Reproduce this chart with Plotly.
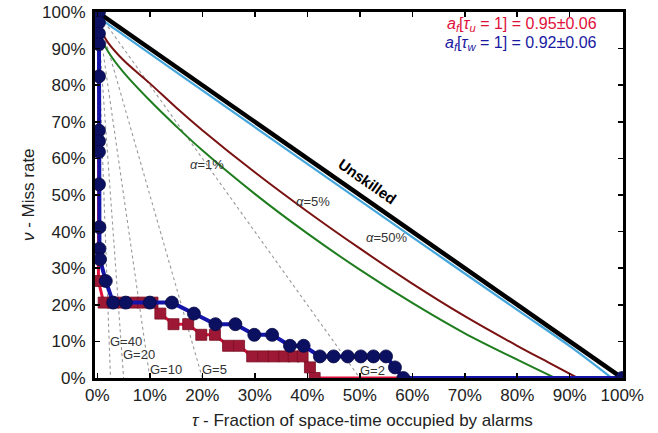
import plotly.graph_objects as go

# ---------------- data ----------------
x_tick_vals = [0, 0.1, 0.2, 0.3, 0.4, 0.5, 0.6, 0.7, 0.8, 0.9, 1.0]
x_tick_text = ["0%", "10%", "20%", "30%", "40%", "50%", "60%", "70%", "80%", "90%", "100%"]
y_tick_vals = [0, 0.1, 0.2, 0.3, 0.4, 0.5, 0.6, 0.7, 0.8, 0.9, 1.0]
y_tick_text = ["0%", "10%", "20%", "30%", "40%", "50%", "60%", "70%", "80%", "90%", "100%"]

# unskilled diagonal
unskilled_tau = [0.0, 1.0]
unskilled_nu = [1.0, 0.0]

# confidence curves
a50_tau = [0.0, 0.01, 0.05, 0.2, 0.4, 0.6, 0.8, 0.9, 0.98]
a50_nu = [1.0, 0.979, 0.937, 0.786, 0.585, 0.385, 0.186, 0.087, 0.0]

a5_tau = [0.005, 0.02, 0.05, 0.1, 0.15, 0.2, 0.3, 0.4, 0.5, 0.6, 0.7, 0.8, 0.86, 0.915]
a5_nu = [0.955, 0.917, 0.868, 0.805, 0.739, 0.677, 0.562, 0.455, 0.354, 0.258, 0.169, 0.088, 0.042, 0.0]

a1_tau = [0.005, 0.02, 0.05, 0.1, 0.15, 0.2, 0.3, 0.4, 0.5, 0.6, 0.7, 0.8, 0.872]
a1_nu = [0.935, 0.893, 0.835, 0.758, 0.688, 0.622, 0.503, 0.395, 0.296, 0.205, 0.122, 0.05, 0.0]

# gain reference lines (nu = 1 - G*tau)
G_values = [40, 20, 10, 5, 2]

# tau_u (red squares)
tau_u = [0.003, 0.002, 0.012, 0.030, 0.050, 0.068, 0.087, 0.105, 0.120, 0.145, 0.173, 0.198,
         0.224, 0.249, 0.270, 0.295, 0.316, 0.336, 0.356, 0.374, 0.391, 0.405, 0.414, 1.0]
nu_u = [1.0, 0.265, 0.206, 0.206, 0.206, 0.206, 0.206, 0.206, 0.176, 0.147, 0.147, 0.118,
        0.118, 0.088, 0.088, 0.059, 0.059, 0.059, 0.059, 0.059, 0.059, 0.029, 0.0, 0.0]

# tau_w (navy circles)
tau_w = [0.003, 0.003, 0.003, 0.003, 0.003, 0.003, 0.003, 0.003, 0.003, 0.004, 0.004, 0.005,
         0.016, 0.030, 0.054, 0.100, 0.142, 0.184, 0.225, 0.263, 0.299, 0.333, 0.367, 0.393,
         0.424, 0.450, 0.477, 0.502, 0.526, 0.550, 0.567, 0.583, 1.0]
nu_w = [1.0, 0.971, 0.941, 0.912, 0.824, 0.676, 0.647, 0.618, 0.529, 0.412, 0.353, 0.324,
        0.265, 0.206, 0.206, 0.206, 0.206, 0.176, 0.147, 0.147, 0.118, 0.118, 0.088, 0.088,
        0.059, 0.059, 0.059, 0.059, 0.059, 0.059, 0.029, 0.0, 0.0]

# ---------------- figure ----------------
FONT = "Liberation Sans, Arial, Helvetica, sans-serif"
fig = go.Figure()

for g in G_values:
    fig.add_trace(go.Scatter(x=[0.0, 1.0 / g], y=[1.0, 0.0], mode="lines",
                             line=dict(color="#999999", width=1.1, dash="dot"),
                             hoverinfo="skip", showlegend=False))

fig.add_trace(go.Scatter(x=a1_tau, y=a1_nu, mode="lines", line=dict(color="#1f7d1f", width=2, shape="spline"),
                         showlegend=False))
fig.add_trace(go.Scatter(x=a5_tau, y=a5_nu, mode="lines", line=dict(color="#7a1212", width=2, shape="spline"),
                         showlegend=False))
fig.add_trace(go.Scatter(x=a50_tau, y=a50_nu, mode="lines", line=dict(color="#45a6dc", width=2.2, shape="spline"),
                         showlegend=False))
fig.add_trace(go.Scatter(x=unskilled_tau, y=unskilled_nu, mode="lines", line=dict(color="black", width=4.5),
                         showlegend=False))

# red series
fig.add_trace(go.Scatter(x=tau_u, y=nu_u, mode="lines", line=dict(color="#e0103a", width=3),
                         showlegend=False))
fig.add_trace(go.Scatter(x=tau_u[1:-1], y=nu_u[1:-1], mode="markers",
                         marker=dict(symbol="square", size=11, color="#9c1834",
                                     line=dict(color="#7a0f25", width=0.8)),
                         showlegend=False))
# navy series
fig.add_trace(go.Scatter(x=tau_w, y=nu_w, mode="lines+markers",
                         line=dict(color="#1414a8", width=4),
                         marker=dict(symbol="circle", size=13, color="#0c1060",
                                     line=dict(color="#070a45", width=0.8)),
                         showlegend=False))

ann = []
for txt, xx, yy in [("G=40", 0.054, 0.100), ("G=20", 0.079, 0.063), ("G=10", 0.130, 0.023),
                    ("G=5", 0.223, 0.023), ("G=2", 0.524, 0.020)]:
    ann.append(dict(x=xx, y=yy, xref="x", yref="y", text=txt, showarrow=False,
                    font=dict(family=FONT, size=13, color="#333333")))
for txt, xx, yy in [("<i>α</i>=1%", 0.209, 0.583), ("<i>α</i>=5%", 0.41, 0.483), ("<i>α</i>=50%", 0.551, 0.383)]:
    ann.append(dict(x=xx, y=yy, xref="x", yref="y", text=txt, showarrow=False,
                    font=dict(family=FONT, size=13, color="#333333")))
ann.append(dict(x=0.515, y=0.537, xref="x", yref="y", text="<b>Unskilled</b>", showarrow=False,
                textangle=35, font=dict(family=FONT, size=15, color="black")))
ann.append(dict(x=0.955, y=0.965, xref="x", yref="y", xanchor="right",
                text="<i>a</i><sub><i>f</i></sub>[<i>τ</i><sub><i>u</i></sub> = 1] = 0.95±0.06",
                showarrow=False, font=dict(family=FONT, size=16, color="#e0103c")))
ann.append(dict(x=0.955, y=0.915, xref="x", yref="y", xanchor="right",
                text="<i>a</i><sub><i>f</i></sub>[<i>τ</i><sub><i>w</i></sub> = 1] = 0.92±0.06",
                showarrow=False, font=dict(family=FONT, size=16, color="#1a1aa0")))
# axis titles
ann.append(dict(x=0.506, y=0, xref="paper", yref="paper", yanchor="middle", yshift=-42,
                text="<i>τ</i> - Fraction of space-time occupied by alarms", showarrow=False,
                font=dict(family=FONT, size=17, color="#222222")))
ann.append(dict(x=0, y=0.5, xref="paper", yref="paper", xanchor="center", xshift=-67,
                text="<i>ν</i> - Miss rate", textangle=-90, showarrow=False,
                font=dict(family=FONT, size=17, color="#222222")))

axis_common = dict(ticks="inside", ticklen=5, tickwidth=1.5, tickcolor="black",
                   showline=True, linewidth=3, linecolor="black", mirror="allticks",
                   showgrid=False, zeroline=False, automargin=False,
                   tickfont=dict(family=FONT, size=17, color="#222222"))

fig.update_xaxes(range=[-0.0045, 1.0015], tickvals=x_tick_vals, ticktext=x_tick_text, **axis_common)
fig.update_yaxes(range=[0, 1.0], tickvals=y_tick_vals, ticktext=y_tick_text,
                 ticklabelstandoff=3, **axis_common)

fig.update_layout(width=658, height=433, margin=dict(l=95, r=35, t=12, b=55, autoexpand=False),
                  paper_bgcolor="white", plot_bgcolor="white", annotations=ann,
                  font=dict(family=FONT), hovermode=False)

fig.write_html("out.html", config={"displayModeBar": False, "staticPlot": True},
               post_script="document.body.style.margin='0px';")
